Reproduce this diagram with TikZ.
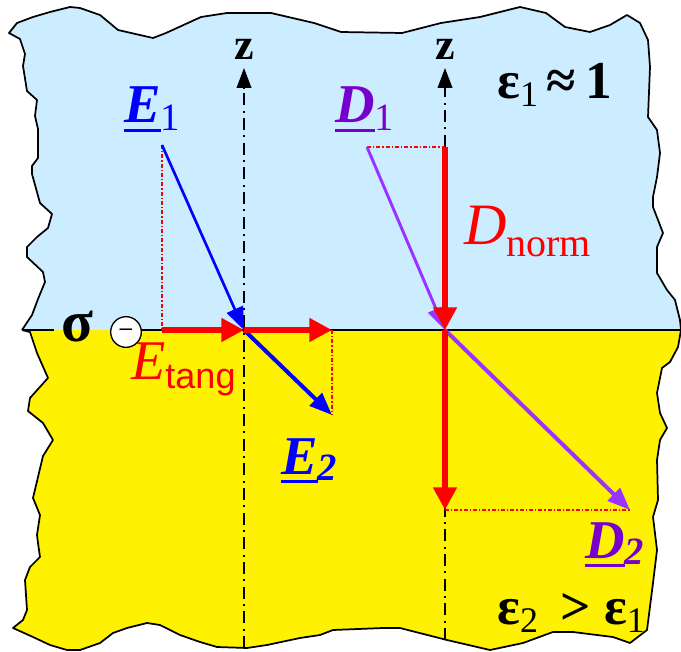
\documentclass[tikz,border=0pt]{standalone}
\usepackage{fontspec}
\setmainfont{Liberation Serif}
\newfontfamily\sansf{Liberation Sans}
\usetikzlibrary{arrows.meta}
\definecolor{skyb}{RGB}{204,236,255}
\definecolor{vio}{RGB}{153,51,255}
\definecolor{viodark}{RGB}{119,0,204}
\newcommand\myul[1]{\setbox0\hbox{#1}\rlap{\rule[-7pt]{\wd0}{2.2pt}}\box0}
\newcommand\fs[1]{\fontsize{#1}{#1}\selectfont}
\begin{document}
\begin{tikzpicture}[x=0.75pt,y=-0.75pt,
  outl/.style={draw=black,line width=1.3pt,line join=round},
  axisline/.style={line width=1.3pt,dash pattern=on 9pt off 4pt on 1.5pt off 4pt},
  proj/.style={red,line width=1pt,dash pattern=on 3pt off 1.5pt on 1pt off 1.5pt},
  redvec/.style={red,line width=5pt,-{Triangle[length=17pt,width=17pt]}},
  bluevec/.style={blue,-{Triangle[length=17pt,width=13pt]}},
  violvec/.style={vio,-{Triangle[length=17pt,width=13pt]}},
  lbl/.style={anchor=base west,inner sep=0pt}
]
\useasboundingbox (0,0) rectangle (681,652);
\def\upperedge{(22,330) -- (32,315) -- (38,299) -- (45,282) -- (43,272) -- (27,257) -- (27,247) -- (37,237) -- (48,228) -- (52,214) -- (40,203) -- (32,174) -- (32,166) -- (38,158) -- (38,129) -- (35,116) -- (37,100) -- (27,91) -- (23,66) -- (25,54) -- (20,39) -- (9,33) -- (17,23) -- (33,17) -- (50,12) -- (70,7) -- (80,8) -- (100,15) -- (118,30) -- (153,38) -- (166,33) -- (201,17) -- (227,13) -- (271,13) -- (314,23) -- (341,32) -- (402,33) -- (441,23) -- (480,17) -- (520,7) -- (546,13) -- (565,27) -- (590,32) -- (610,25) -- (627,15) -- (640,23) -- (648,40) -- (650,67) -- (648,117) -- (657,130) -- (660,153) -- (657,177) -- (653,197) -- (653,207) -- (663,233) -- (657,247) -- (657,273) -- (667,290) -- (675,300) -- (680,320) -- (681,330)}
\def\loweredge{(681,330) -- (678,347) -- (670,362) -- (662,368) -- (657,393) -- (660,413) -- (667,428) -- (660,440) -- (657,460) -- (658,500) -- (653,517) -- (657,550) -- (653,583) -- (647,630) -- (630,643) -- (613,637) -- (573,632) -- (553,632) -- (523,643) -- (490,650) -- (447,640) -- (400,628) -- (383,628) -- (333,630) -- (320,635) -- (300,638) -- (267,645) -- (247,648) -- (217,647) -- (200,642) -- (180,635) -- (160,625) -- (147,623) -- (127,628) -- (113,633) -- (100,643) -- (80,650) -- (67,650) -- (50,645) -- (33,637) -- (13,628) -- (23,620) -- (27,610) -- (25,580) -- (30,567) -- (40,557) -- (38,543) -- (37,535) -- (40,515) -- (33,498) -- (38,477) -- (43,456) -- (53,440) -- (43,423) -- (28,411) -- (30,398) -- (48,378) -- (37,353) -- (30,332) -- (22,330)}
\fill[skyb] \upperedge -- cycle;
\fill[yellow] \loweredge -- cycle;
\draw[outl] \upperedge -- \loweredge;

% named points
\coordinate (IL) at (22,330);
\coordinate (IA) at (54,330);
\coordinate (IB) at (141,330);
\coordinate (IR) at (681,330);
\coordinate (O1) at (244,330);
\coordinate (O2) at (445,330);
\coordinate (E1t) at (162,145);
\coordinate (E1p) at (162,330);
\coordinate (E2h) at (332,415);
\coordinate (E2p) at (332,330);
\coordinate (D1t) at (367,147);
\coordinate (Dnt) at (445,147);
\coordinate (D2h) at (630,510);
\coordinate (Dnh) at (445,510);
\coordinate (Z1b) at (244,648);
\coordinate (Z1t) at (244,68);
\coordinate (Z2b) at (445,640);
\coordinate (Z2t) at (445,68);

% interface
\draw[line width=2.2pt] (IL) -- (IA);
\draw[line width=2.2pt] (IB) -- (IR);

% axes
\draw[axisline,-{Triangle[length=15pt,width=11pt]}] (Z1b) -- (Z1t);
\draw[axisline,-{Triangle[length=15pt,width=11pt]}] (Z2b) -- (Z2t);
\node[lbl,anchor=base] (z1) at (244,60) {\fs{33}\bfseries z};
\node[lbl,anchor=base] (z2) at (445,60) {\fs{33}\bfseries z};

% projections
\draw[proj] (E1t) -- (E1p);
\draw[proj] (E2p) -- (E2h);
\draw[proj] (D1t) -- (Dnt);
\draw[proj] (Dnh) -- (D2h);

% E vectors
\draw[bluevec,line width=2pt] (E1t) -- (O1);
\draw[bluevec,line width=3pt] (O1) -- (E2h);
\draw[redvec] (E1p) -- (O1);
\draw[redvec] (O1) -- (E2p);

% D vectors
\draw[violvec,line width=2.2pt] (D1t) -- (O2);
\draw[violvec,line width=3pt] (O2) -- (D2h);
\draw[redvec] (Dnt) -- (O2);
\draw[redvec] (O2) -- (Dnh);

% sigma and charge
\node[lbl] (sig) at (61,341) {\fs{44}\bfseries σ};
\node[circle,draw=black,line width=1pt,fill=white,minimum size=23pt,inner sep=0pt] (q) at (126,332) {\fs{17}\sansf –};

% labels
\node[lbl,text=blue] (lE1) at (124,123) {\fs{41}\bfseries\itshape\myul{E}\raisebox{-6pt}{\fs{29}\mdseries\upshape 1}};
\node[lbl,text=blue] (lE2) at (281,474) {\fs{41}\bfseries\itshape\myul{E}\raisebox{-5pt}{\fs{29}2}};
\node[lbl,text=viodark] (lD1) at (335,123) {\fs{41}\bfseries\itshape\myul{D}\raisebox{-6pt}{\fs{29}\mdseries\upshape 1}};
\node[lbl,text=viodark] (lD2) at (585,558) {\fs{41}\bfseries\itshape\myul{D}\raisebox{-5pt}{\fs{29}2}};
\node[lbl,text=red] (lEt) at (131,379) {\fs{42}\itshape E\raisebox{-7pt}{\fs{27}\upshape\sansf tang}};
\node[lbl,text=red] (lDn) at (464,244) {\fs{44}\itshape D\raisebox{-9pt}{\fs{30}\upshape norm}};
\node[lbl] (eps1) at (497,99) {\fs{40}\bfseries ε\raisebox{-6pt}{\fs{27}\mdseries 1}\,≈\,1};
\node[lbl] (eps2) at (497,624) {\fs{40}\bfseries ε\raisebox{-6pt}{\fs{27}\mdseries 2}\, > ε\raisebox{-6pt}{\fs{27}\mdseries 1}};
\end{tikzpicture}
\end{document}
